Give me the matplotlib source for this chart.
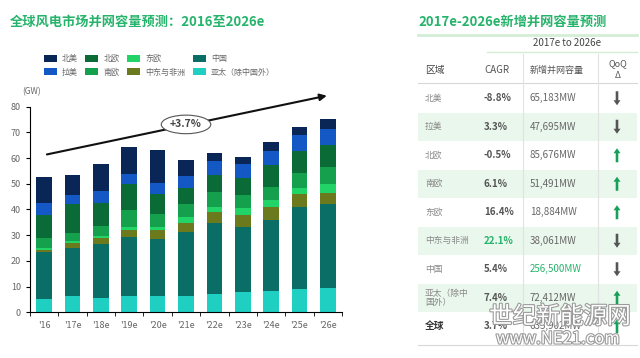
import matplotlib.pyplot as plt
import matplotlib.patheffects as pe
import numpy as np

plt.rcParams['font.family'] = ['Noto Sans CJK SC', 'DejaVu Sans']

years = ["'16", "'17e", "'18e", "'19e", "'20e", "'21e", "'22e", "'23e", "'24e", "'25e", "'26e"]

# GW per region, bottom to top of the stack
asia = [5.1, 6.4, 5.7, 6.4, 6.4, 6.5, 7.0, 7.7, 8.4, 8.9, 9.6]
china = [18.5, 18.8, 20.9, 22.7, 22.0, 24.9, 27.9, 25.6, 27.5, 32.0, 32.6]
mea = [0.7, 1.6, 2.2, 3.1, 3.6, 3.5, 4.0, 4.6, 5.0, 5.1, 4.4]
east_eu = [0.7, 0.8, 1.0, 1.0, 1.2, 2.1, 2.0, 2.6, 2.8, 2.2, 3.4]
south_eu = [3.8, 3.1, 3.8, 6.6, 5.2, 5.2, 6.0, 5.2, 5.2, 6.1, 6.4]
north_eu = [9.2, 11.3, 8.8, 10.2, 7.7, 6.0, 6.5, 6.4, 8.4, 8.6, 8.7]
latam = [4.6, 3.7, 4.9, 3.8, 4.2, 4.8, 5.5, 5.6, 5.6, 6.1, 6.2]
north_am = [9.9, 7.9, 10.4, 10.7, 12.9, 6.3, 3.2, 2.9, 3.2, 3.2, 3.9]

series = [
    ('亚太（除中国外）', asia, '#1fd0c2'),
    ('中国', china, '#0a6e66'),
    ('中东与非洲', mea, '#6b7a1c'),
    ('东欧', east_eu, '#22d468'),
    ('南欧', south_eu, '#14a04c'),
    ('北欧', north_eu, '#0b6b36'),
    ('拉美', latam, '#1358c4'),
    ('北美', north_am, '#0a2656'),
]

# table on the right
regions = ['北美', '拉美', '北欧', '南欧', '东欧', '中东与非洲', '中国', '亚太（除中\n国外）', '全球']
cagr = ['-8.8%', '3.3%', '-0.5%', '6.1%', '16.4%', '22.1%', '5.4%', '7.4%', '3.7%']
capacity = ['65,183MW', '47,695MW', '85,676MW', '51,491MW', '18,884MW', '38,061MW',
            '256,500MW', '72,412MW', '635,902MW']
qoq_up = [False, False, True, True, True, False, False, True, True]

green = '#26b36b'
fig = plt.figure(figsize=(6.4, 3.58), dpi=100)

ax = fig.add_axes([0.0469, 0.1277, 0.4875, 0.5743])
x = np.arange(len(years))
bottom = np.zeros(len(years))
handles = {}
for name, vals, col in series:
    b = ax.bar(x, vals, 0.55, bottom=bottom, color=col, label=name)
    handles[name] = b
    bottom += np.array(vals)

ax.set_xlim(-0.5, len(years) - 0.5)
ax.set_ylim(0, 80)
ax.set_yticks(range(0, 81, 10))
ax.set_xticks(x)
ax.set_xticklabels(years)
ax.set_xticks(np.arange(-0.5, len(years), 1), minor=True)
ax.tick_params(axis='x', which='major', length=0, labelsize=6.5, labelcolor='#666', pad=6)
ax.tick_params(axis='x', which='minor', length=3, direction='out')
ax.tick_params(axis='y', length=3, labelsize=6.5, labelcolor='#666')
for s in ['top', 'right']:
    ax.spines[s].set_visible(False)

ax.annotate('', xy=(10.06, 84.5), xytext=(0, 61.2),
            arrowprops=dict(arrowstyle='-|>', lw=1.5, color='#111', mutation_scale=10),
            annotation_clip=False)
ax.text(5.0, 73.1, '+3.7%', ha='center', va='center', fontsize=7.5, color='#444', fontweight='bold',
        bbox=dict(boxstyle='ellipse,pad=0.15', fc='white', ec='#555', lw=0.8))

order = ['北美', '拉美', '北欧', '南欧', '东欧', '中东与非洲', '中国', '亚太（除中国外）']
fig.legend([handles[n] for n in order], order, loc='upper left', bbox_to_anchor=(0.062, 0.86),
           ncol=4, frameon=False, fontsize=5.8, labelcolor='#666', handlelength=1.6, handleheight=1.0,
           handletextpad=0.6, columnspacing=1.0, borderpad=0, labelspacing=0.55)

# overlay in pixel coordinates for titles and the table
ov = fig.add_axes([0, 0, 1, 1], zorder=-1)
ov.set_xlim(0, 640)
ov.set_ylim(358, 0)
ov.axis('off')

ov.text(10, 22, '全球风电市场并网容量预测：2016至2026e', fontsize=9.5, fontweight='bold',
        color=green, va='center')
ov.text(22, 92, '(GW)', fontsize=6, color='#666', va='center')

ov.text(418, 22, '2017e-2026e新增并网容量预测', fontsize=9.5, fontweight='bold', color=green, va='center')
ov.plot([418, 637], [35, 35], color='#d3eed6', lw=2)
ov.text(567, 43, '2017e to 2026e', fontsize=7, color='#444', ha='center', va='center')
ov.plot([487, 637], [52, 52], color='#d3eed6', lw=1)
ov.text(425, 70, '区域', fontsize=7, color='#444', va='center')
ov.text(484, 70, 'CAGR', fontsize=7, color='#555', va='center')
ov.text(530, 70, '新增并网容量', fontsize=6.5, color='#555', va='center')
ov.text(618, 64, 'QoQ', fontsize=6.5, color='#555', ha='center', va='center')
ov.text(618, 75, 'Δ', fontsize=6.5, color='#555', ha='center', va='center')
ov.plot([418, 637], [83, 83], color='#d8d8d8', lw=0.8)

row_h = 28.5
top = 84
for i, reg in enumerate(regions):
    cy = top + row_h * (i + 0.5)
    if i % 2 == 1:
        ov.add_patch(plt.Rectangle((418, top + row_h * i), 219, row_h, color='#eaf7ec', lw=0))
    is_total = reg == '全球'
    ov.text(425, cy, reg, fontsize=6.3 if not is_total else 7, va='center',
            color='#333' if is_total else '#888', fontweight='bold' if is_total else 'normal',
            linespacing=1.0)
    ov.text(484, cy, cagr[i], fontsize=7, va='center', fontweight='bold',
            color=green if cagr[i] == '22.1%' else '#555')
    ov.text(530, cy, capacity[i], fontsize=7, va='center',
            color=green if capacity[i] == '256,500MW' else '#666')
    if qoq_up[i]:
        ov.arrow(617, cy + 7, 0, -14, width=2.6, head_width=7, head_length=5,
                 length_includes_head=True, color='#17a05a', lw=0)
    else:
        ov.arrow(617, cy - 7, 0, 14, width=2.6, head_width=7, head_length=5,
                 length_includes_head=True, color='#555', lw=0)
ov.plot([418, 637], [345, 345], color='#d8d8d8', lw=0.8)
ov.plot([523, 523], [54, 345], color='#e2e2e2', lw=0.8)
ov.plot([598, 598], [54, 345], color='#e2e2e2', lw=0.8)

# watermark
wm = fig.add_axes([0, 0, 1, 1], zorder=5)
wm.set_xlim(0, 640)
wm.set_ylim(358, 0)
wm.axis('off')
stroke = [pe.withStroke(linewidth=1.6, foreground='#9a9a9a')]
wm.text(560, 317, '世纪新能源网', fontsize=17, color='white', ha='center', va='center', path_effects=stroke)
wm.text(558, 339, 'www.NE21.com', fontsize=12, color='white', ha='center', va='center', path_effects=stroke)

fig.savefig('out.png', dpi=100)
